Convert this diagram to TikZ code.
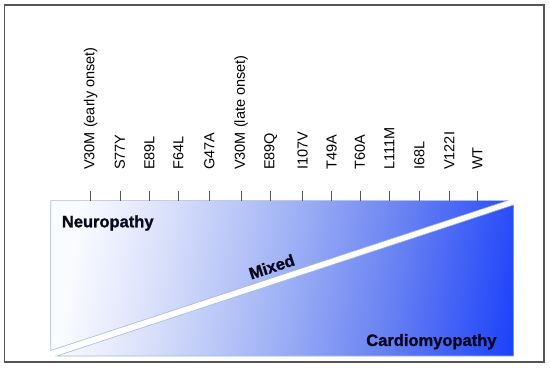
\documentclass[tikz,border=0pt]{standalone}
\usepackage{fontspec}
\setmainfont{Liberation Sans}
\newfontfamily\heavyfont[FakeBold=1.2]{Liberation Sans Bold}
\usepackage{xcolor}
\definecolor{grad0}{RGB}{250,251,255}
\definecolor{grad1}{RGB}{215,222,250}
\definecolor{grad2}{RGB}{160,178,245}
\definecolor{grad3}{RGB}{105,130,242}
\definecolor{grad4}{RGB}{45,80,248}
\definecolor{grad5}{RGB}{5,45,255}
\definecolor{edgeblue}{RGB}{165,185,220}
\definecolor{framegray}{RGB}{85,85,85}
\definecolor{textnavy}{RGB}{8,8,30}
\pgfdeclarehorizontalshading{wedgeshade}{100bp}{color(0bp)=(grad0); color(25bp)=(grad0);
    color(36bp)=(grad1); color(50bp)=(grad2); color(63bp)=(grad3); color(75bp)=(grad4);
    color(83bp)=(grad5); color(100bp)=(grad5)}

\begin{document}
\begin{tikzpicture}[
    x=1pt, y=-1pt,
    tick/.style={draw=framegray, line width=0.6pt},
    mutation/.style={rotate=90, anchor=west, inner sep=0pt, font=\fontsize{14.5}{16}\selectfont},
    phenotype/.style={inner sep=0pt, text=textnavy, font=\fontsize{16.5}{20}\selectfont\heavyfont},
    wedge/.style={draw=edgeblue, line width=0.6pt},
    wedgefill/.style={shading=wedgeshade, shading angle=-9}
]
    \useasboundingbox (0,0) rectangle (550,369);

    % Frame
    \draw[framegray, line width=1.3pt] (4.7,5) rectangle (544,362);

    % Corners of the two wedges
    \coordinate (up_tl) at (50.7, 200.7);
    \coordinate (up_tr) at (507.3, 200.7);
    \coordinate (up_bl) at (50.7, 350.5);
    \coordinate (lo_bl) at (56.7, 356);
    \coordinate (lo_tr) at (513.3, 205);
    \coordinate (lo_br) at (513.3, 356);

    % Upper wedge (neuropathy)
    \begin{scope}
        \clip (up_tl) -- (up_tr) -- (up_bl) -- cycle;
        \shade[wedgefill] (50.7,200.7) rectangle (513.3,356);
    \end{scope}
    \draw[wedge] (up_tl) -- (up_tr) -- (up_bl) -- cycle;

    % Lower wedge (cardiomyopathy)
    \begin{scope}
        \clip (lo_bl) -- (lo_tr) -- (lo_br) -- cycle;
        \shade[wedgefill] (50.7,200.7) rectangle (513.3,356);
    \end{scope}
    \draw[wedge] (lo_bl) -- (lo_tr) -- (lo_br) -- cycle;

    % Tick positions
    \coordinate (t1)  at (90.7, 200.7);
    \coordinate (t2)  at (120, 200.7);
    \coordinate (t3)  at (149.3, 200.7);
    \coordinate (t4)  at (178.3, 200.7);
    \coordinate (t5)  at (209.3, 200.7);
    \coordinate (t6)  at (241, 200.7);
    \coordinate (t7)  at (270.7, 200.7);
    \coordinate (t8)  at (302.7, 200.7);
    \coordinate (t9)  at (331.7, 200.7);
    \coordinate (t10) at (360, 200.7);
    \coordinate (t11) at (389.3, 200.7);
    \coordinate (t12) at (419.3, 200.7);
    \coordinate (t13) at (449.3, 200.7);
    \coordinate (t14) at (477.3, 200.7);

    % Ticks
    \draw[tick] (t1) -- ++(0,-10);
    \draw[tick] (t2) -- ++(0,-10);
    \draw[tick] (t3) -- ++(0,-10);
    \draw[tick] (t4) -- ++(0,-10);
    \draw[tick] (t5) -- ++(0,-10);
    \draw[tick] (t6) -- ++(0,-10);
    \draw[tick] (t7) -- ++(0,-10);
    \draw[tick] (t8) -- ++(0,-10);
    \draw[tick] (t9) -- ++(0,-10);
    \draw[tick] (t10) -- ++(0,-10);
    \draw[tick] (t11) -- ++(0,-10);
    \draw[tick] (t12) -- ++(0,-10);
    \draw[tick] (t13) -- ++(0,-10);
    \draw[tick] (t14) -- ++(0,-10);

    % Mutation labels
    \node[mutation] (v30m_early) at (90.7, 170) {V30M (early onset)};
    \node[mutation] (s77y)  at (120, 170)   {S77Y};
    \node[mutation] (e89l)  at (149.3, 170) {E89L};
    \node[mutation] (f64l)  at (178.3, 170) {F64L};
    \node[mutation] (g47a)  at (209.3, 170) {G47A};
    \node[mutation] (v30m_late) at (241, 170) {V30M (late onset)};
    \node[mutation] (e89q)  at (270.7, 170) {E89Q};
    \node[mutation] (i107v) at (302.7, 170) {I107V};
    \node[mutation] (t49a)  at (331.7, 170) {T49A};
    \node[mutation] (t60a)  at (360, 170)   {T60A};
    \node[mutation] (l111m) at (389.3, 170) {L111M};
    \node[mutation] (i68l)  at (419.3, 170) {I68L};
    \node[mutation] (v122i) at (449.3, 170) {V122I};
    \node[mutation] (wt)    at (477.3, 170) {WT};

    % Phenotype labels
    \node[phenotype, anchor=west] (neuro) at (61.7, 223) {Neuropathy};
    \node[phenotype, rotate=18.2] (mixed) at (271.7, 266.7) {Mixed};
    \node[phenotype, anchor=east] (cardio) at (496.7, 341.7) {Cardiomyopathy};

\end{tikzpicture}
\end{document}
